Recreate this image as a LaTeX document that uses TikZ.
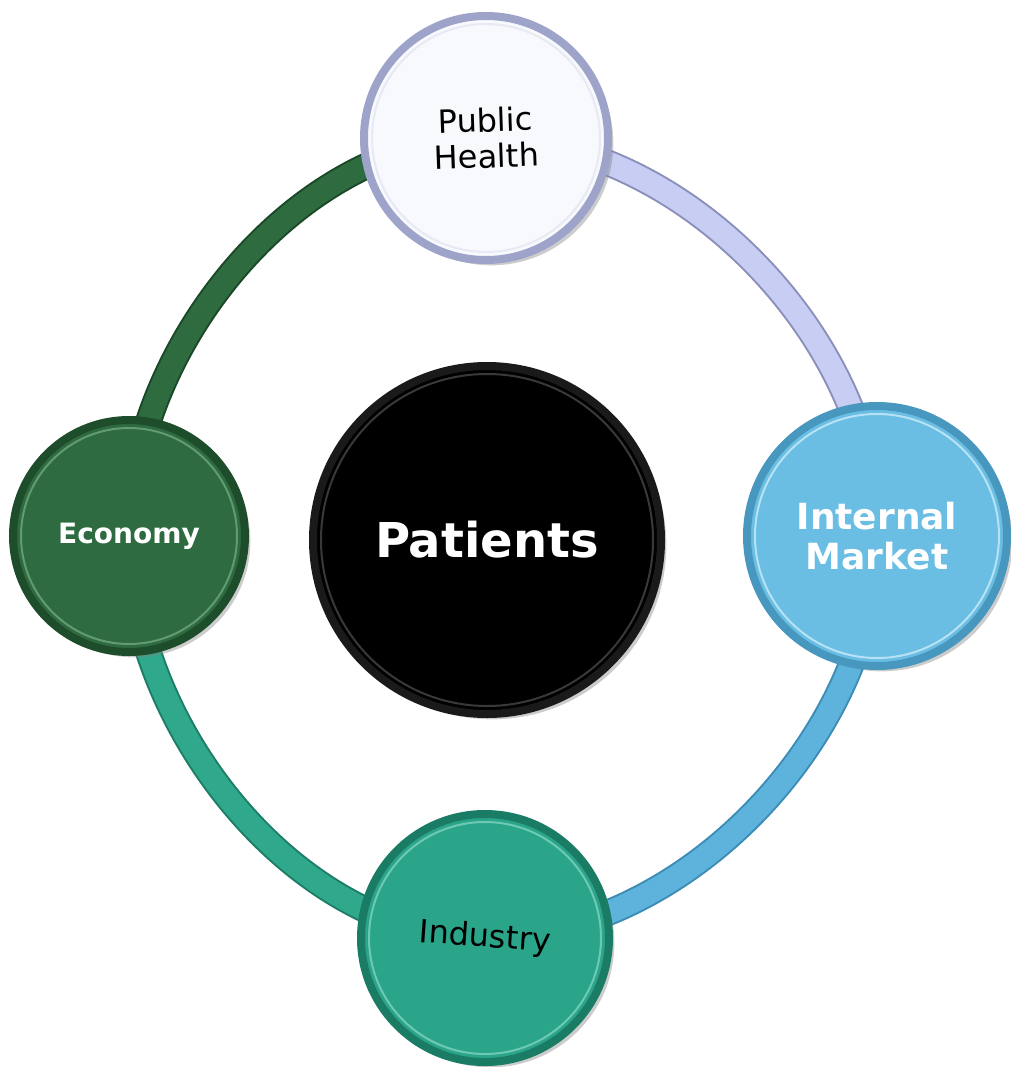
\documentclass[tikz,border=0pt]{standalone}
\usepackage{fontspec}
\setmainfont{DejaVu Sans}
\usepackage{tikz}
\usetikzlibrary{positioning, shadows, backgrounds}
\usepackage{xcolor}

\definecolor{ecoFill}{HTML}{2E6B40}
\definecolor{ecoRim}{HTML}{1D4D2B}
\definecolor{ecoGlint}{HTML}{6FA67F}
\definecolor{indFill}{HTML}{2AA58A}
\definecolor{indRim}{HTML}{1B7C66}
\definecolor{indGlint}{HTML}{7FD3BF}
\definecolor{mktFill}{HTML}{6ABEE3}
\definecolor{mktRim}{HTML}{4797BF}
\definecolor{mktGlint}{HTML}{C9ECF8}
\definecolor{phFill}{HTML}{F8F9FD}
\definecolor{phRim}{HTML}{9EA3C9}
\definecolor{phGlint}{HTML}{E3E5F4}
\definecolor{patRim}{HTML}{1A1A1A}
\definecolor{ringLav}{HTML}{C7CDF3}
\definecolor{ringLavEdge}{HTML}{8A90BA}
\definecolor{ringBlue}{HTML}{5DB3DB}
\definecolor{ringBlueEdge}{HTML}{3C8CB5}
\definecolor{ringTeal}{HTML}{2FA88B}
\definecolor{ringTealEdge}{HTML}{1D7D66}
\definecolor{ringGreen}{HTML}{2E6B3F}
\definecolor{ringGreenEdge}{HTML}{1B4828}

\tikzset{
  lens/.style={circle, inner sep=0pt, align=center, line width=6pt,
    drop shadow={shadow xshift=4pt, shadow yshift=-4pt, opacity=.4}},
  band/.style={line width=1.5pt, double distance=17pt, looseness=0.9},
  glint/.style={line width=1.5pt, opacity=.8},
}

\begin{document}
\begin{tikzpicture}[x=0.75pt,y=0.75pt,yscale=-1,xscale=1]
        \useasboundingbox (0,0) rectangle (1010,1067);
        % Centre
        \node[lens, minimum size=261pt, fill=black, draw=patRim, text=white,
              font=\fontsize{36}{40}\selectfont\bfseries] (pat) at (487,540) {Patients};
        % Outer discs
        \node[lens, minimum size=183pt, fill=phFill, draw=phRim, text=black,
              font=\fontsize{24}{27}\selectfont, rotate=2] (ph) at (486,138) {Public\\Health};
        \node[lens, minimum size=195pt, fill=mktFill, draw=mktRim, text=white,
              font=\fontsize{27}{30}\selectfont\bfseries] (mkt) at (877,536) {Internal\\Market};
        \node[lens, minimum size=186pt, fill=indFill, draw=indRim, text=black,
              font=\fontsize{24}{28}\selectfont, rotate=-4] (ind) at (485,938) {Industry};
        \node[lens, minimum size=174pt, fill=ecoFill, draw=ecoRim, text=white,
              font=\fontsize{21}{24}\selectfont\bfseries] (eco) at (129,536) {Economy};
        % Glints on the rims
        \draw[glint, patRim!70, opacity=.6] (pat.center) circle[radius=166];
        \draw[glint, phGlint] (ph.center) circle[radius=114];
        \draw[glint, mktGlint] (mkt.center) circle[radius=122];
        \draw[glint, indGlint] (ind.center) circle[radius=116];
        \draw[glint, ecoGlint] (eco.center) circle[radius=108];
        % Ring
        \begin{scope}[on background layer]
        \draw[band, draw=ringGreenEdge, double=ringGreen] (ph.center) to[out=180, in=-90] (eco.center);
        \draw[band, draw=ringTealEdge, double=ringTeal] (eco.center) to[out=90, in=180] (ind.center);
        \draw[band, draw=ringBlueEdge, double=ringBlue] (ind.center) to[out=0, in=90] (mkt.center);
        \draw[band, draw=ringLavEdge, double=ringLav] (mkt.center) to[out=-90, in=0] (ph.center);
        \end{scope}
\end{tikzpicture}
\end{document}
